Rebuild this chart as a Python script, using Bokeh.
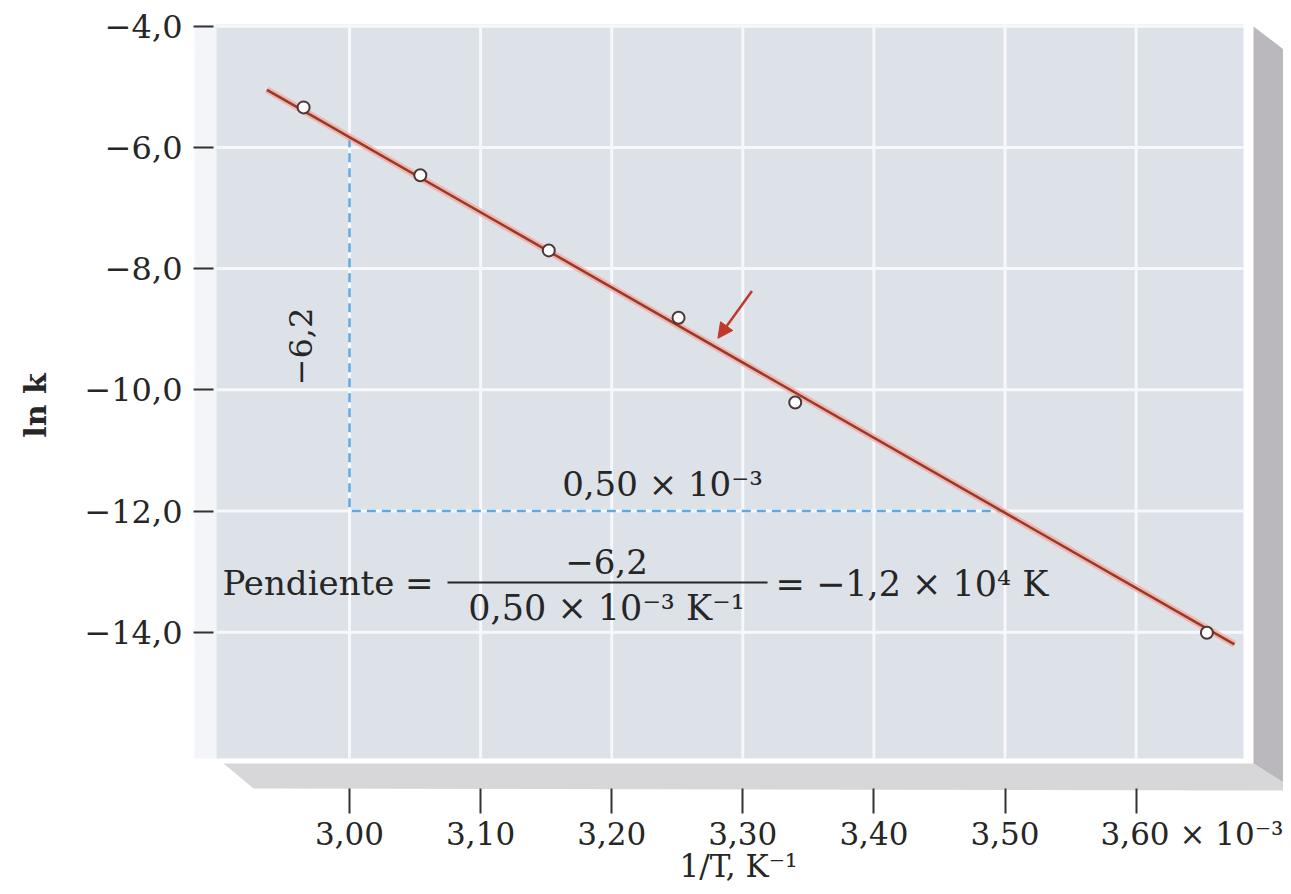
from bokeh.plotting import figure
from bokeh.models import Label, Arrow, NormalHead, FixedTicker
from bokeh.embed import file_html
from bokeh.resources import INLINE

# ---------------- data ----------------
x_ticks = [3.00, 3.10, 3.20, 3.30, 3.40, 3.50, 3.60]
x_tick_labels = ["3,00", "3,10", "3,20", "3,30", "3,40", "3,50",
                 "\u2007\u2007\u2007\u2007\u2007\u20073,60 \u00d7 10\u207b\u00b3"]
y_ticks = [-4.0, -6.0, -8.0, -10.0, -12.0, -14.0]
y_tick_labels = ["\u22124,0", "\u22126,0", "\u22128,0", "\u221210,0", "\u221212,0", "\u221214,0"]

inv_T = [2.965, 3.054, 3.152, 3.251, 3.340, 3.654]      # 1/T  (x 10^-3 K^-1)
ln_k = [-5.34, -6.46, -7.70, -8.81, -10.21, -14.01]      # ln k

fit_x = [2.937, 3.675]
fit_y = [-5.05, -14.20]

slope_x = [3.00, 3.00, 3.50]      # rise / run construction
slope_y = [-5.85, -12.0, -12.0]

arrow_start = (3.307, -8.37)
arrow_end = (3.281, -9.15)

# ---------------- layout helpers (page pixel -> data) ----------------
X_REF_PX, X_PER_UNIT = 349.0, 1311.0
Y_REF_PX, Y_PER_UNIT = 25.7, 60.6


def px2x(px):
    return 3.00 + (px - X_REF_PX) / X_PER_UNIT


def py2y(py):
    return -4.0 - (py - Y_REF_PX) / Y_PER_UNIT


W, H = 1283, 886
FL, FR, FT, FB = 193, W, 10, 800          # frame edges in pixels

FONT = "DejaVu Serif"
TXT = "#262626"

p = figure(width=W, height=H, output_backend="svg", toolbar_location=None,
           x_range=(px2x(FL), px2x(FR)), y_range=(py2y(FB), py2y(FT)),
           min_border_left=FL, min_border_right=W - FR,
           min_border_top=FT, min_border_bottom=H - FB)
p.outline_line_color = None
p.background_fill_color = "white"
p.border_fill_color = "white"
p.xgrid.visible = False
p.ygrid.visible = False

# ---------------- 3D-ish panel ----------------
PL, PR, PT, PB = px2x(216), px2x(1243), py2y(24), py2y(758)
p.quad(left=px2x(194), right=PL, top=PT, bottom=PB, fill_color="#f3f5f8", line_color=None)
p.patch([px2x(v) for v in (1253, 1295, 1295, 1253)], [py2y(v) for v in (26, 58, 790, 763)],
        fill_color="#bab8bd", line_color=None)
p.patch([px2x(v) for v in (223, 1253, 1295, 253)], [py2y(v) for v in (763, 763, 790, 788)],
        fill_color="#d7d7da", line_color=None)
p.quad(left=PL, right=PR, top=PT, bottom=PB, fill_color="#dde2e9", line_color=None)

# grid lines inside the panel
p.segment(x0=x_ticks, x1=x_ticks, y0=[PB] * len(x_ticks), y1=[PT] * len(x_ticks),
          line_color="#f6f8fb", line_width=3)
p.segment(x0=[PL] * len(y_ticks), x1=[PR] * len(y_ticks), y0=y_ticks, y1=y_ticks,
          line_color="#f6f8fb", line_width=3)

# ---------------- slope construction ----------------
p.line(slope_x, slope_y, line_color="#5fa8e2", line_width=2.5, line_dash="9 6")

# ---------------- fit line + points ----------------
p.line(fit_x, fit_y, line_color="#f1a898", line_width=7, line_alpha=0.75)
p.line(fit_x, fit_y, line_color="#9a372c", line_width=2.5)
p.scatter(inv_T, ln_k, marker="circle", size=12, fill_color="white",
          line_color="#4a3838", line_width=2)

p.add_layout(Arrow(end=NormalHead(size=15, fill_color="#c0392b", line_color="#c0392b"),
                   x_start=arrow_start[0], y_start=arrow_start[1],
                   x_end=arrow_end[0], y_end=arrow_end[1],
                   line_color="#c0392b", line_width=2.5))

# ---------------- axes ----------------
p.xaxis.ticker = FixedTicker(ticks=x_ticks)
p.xaxis.major_label_overrides = dict(zip(x_ticks, x_tick_labels))
p.yaxis.ticker = FixedTicker(ticks=y_ticks)
p.yaxis.major_label_overrides = dict(zip(y_ticks, y_tick_labels))
for ax in (p.xaxis, p.yaxis):
    ax.axis_line_color = None
    ax.minor_tick_line_color = None
    ax.major_tick_line_color = "#333333"
    ax.major_tick_line_width = 2
    ax.major_label_text_font = FONT
    ax.major_label_text_color = TXT
    ax.axis_label_text_font = FONT
    ax.axis_label_text_color = TXT

p.yaxis.major_tick_in = 20
p.yaxis.major_tick_out = 0
p.yaxis.major_label_standoff = 11
p.yaxis.major_label_text_font_size = "32px"
p.yaxis.axis_label = "ln k"
p.yaxis.axis_label_text_font_size = "30px"
p.yaxis.axis_label_text_font_style = "bold"
p.yaxis.axis_label_standoff = 28

p.xaxis.major_tick_in = 12
p.xaxis.major_tick_out = 13
p.xaxis.major_label_standoff = 2
p.xaxis.major_label_text_font_size = "31px"
p.xaxis.axis_label = "1/T, K\u207b\u00b9"
p.xaxis.axis_label_text_font_size = "31px"
p.xaxis.axis_label_text_font_style = "normal"
p.xaxis.axis_label_standoff = -7


def lab(x, y, text, size="32px", align="left", angle=0.0):
    p.add_layout(Label(x=x, y=y, text=text, text_font=FONT, text_font_size=size,
                       text_color=TXT, text_align=align, text_baseline="middle",
                       angle=angle))


# slope annotations
lab(px2x(300), py2y(346), "\u22126,2", size="32px", align="center", angle=1.5708)
lab(px2x(662), py2y(483), "0,50 \u00d7 10\u207b\u00b3", size="34px", align="center")
lab(px2x(222), py2y(582), "Pendiente\u00a0=", size="34px")
lab(px2x(606), py2y(561), "\u22126,2", size="34px", align="center")
p.line([px2x(447), px2x(767)], [py2y(582), py2y(582)], line_color=TXT, line_width=2)
lab(px2x(606), py2y(607), "0,50 \u00d7 10\u207b\u00b3 K\u207b\u00b9", size="35px", align="center")
lab(px2x(775), py2y(583), "= \u22121,2 \u00d7 10\u2074 K", size="35px")

open("out.html", "w").write(file_html(p, INLINE))
